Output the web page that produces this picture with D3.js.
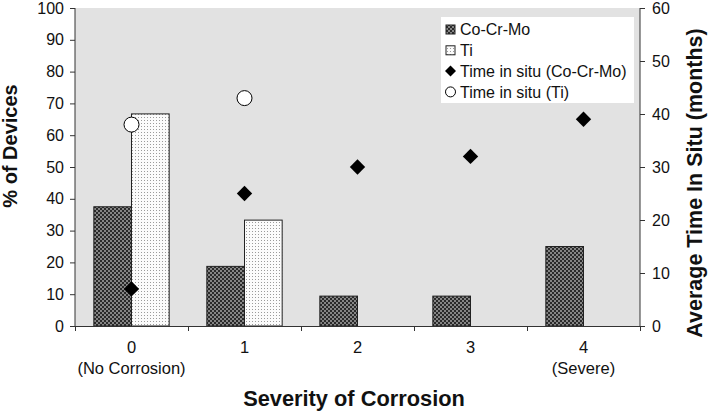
<!DOCTYPE html>
<html><head><meta charset="utf-8">
<script src="https://cdn.jsdelivr.net/npm/d3@7"></script>
<style>
body{margin:0;background:#fff;}
svg{display:block;font-family:"Liberation Sans",Arial,sans-serif;}
</style></head>
<body><svg id="c" width="708" height="414"></svg>
<script>
const categories = ["0","1","2","3","4"];
const subLabels = ["(No Corrosion)","","","","(Severe)"];
const coCrMo = [37.5, 18.75, 9.4, 9.4, 25];
const ti = [66.7, 33.3, 0, 0, 0];
const timeCoCrMo = [7, 25, 30, 32, 39];
const timeTi = [38, 43, null, null, null];
const leftTicks = [0,10,20,30,40,50,60,70,80,90,100];
const rightTicks = [0,10,20,30,40,50,60];
const legendLabels = ["Co-Cr-Mo","Ti","Time in situ (Co-Cr-Mo)","Time in situ (Ti)"];

const svg = d3.select("#c");
const L = 75, R = 640, T = 8, B = 326;
const axisCol = "#333";

const defs = svg.append("defs");
const p1 = defs.append("pattern").attr("id","pDark").attr("patternUnits","userSpaceOnUse").attr("width",4).attr("height",4);
p1.append("rect").attr("width",4).attr("height",4).attr("fill","#858585");
p1.append("rect").attr("width",2).attr("height",2).attr("fill","#2a2a2a");
p1.append("rect").attr("x",2).attr("y",2).attr("width",2).attr("height",2).attr("fill","#2a2a2a");
const p2 = defs.append("pattern").attr("id","pLight").attr("patternUnits","userSpaceOnUse").attr("width",3).attr("height",3);
p2.append("rect").attr("width",3).attr("height",3).attr("fill","#fbfbfb");
p2.append("rect").attr("width",1).attr("height",1).attr("fill","#9a9a9a");

const x = d3.scaleBand().domain(categories).range([L,R]).padding(0);
const bw = x.bandwidth();
const xs = d3.scaleBand().domain(["Co-Cr-Mo","Ti"]).range([bw/6, bw*5/6]).padding(0);
const yL = d3.scaleLinear().domain([0,100]).range([B,T]);
const yR = d3.scaleLinear().domain([0,60]).range([B,T]);
const xEdge = d3.scaleLinear().domain([0,5]).range([L,R]);

// plot background
svg.append("rect").attr("x",L).attr("y",T).attr("width",R-L).attr("height",B-T).attr("fill","#e2e2e2");

// bars
const rows = categories.map((c,i)=>({c, co:coCrMo[i], ti:ti[i]}));
const g = svg.append("g");
g.selectAll(".co").data(rows).join("rect")
  .attr("x",d=>x(d.c)+xs("Co-Cr-Mo")).attr("width",xs.bandwidth())
  .attr("y",d=>yL(d.co)).attr("height",d=>yL(0)-yL(d.co))
  .attr("fill","url(#pDark)").attr("stroke","#222").attr("stroke-width",1);
g.selectAll(".ti").data(rows.filter(d=>d.ti>0)).join("rect")
  .attr("x",d=>x(d.c)+xs("Ti")).attr("width",xs.bandwidth())
  .attr("y",d=>yL(d.ti)).attr("height",d=>yL(0)-yL(d.ti))
  .attr("fill","url(#pLight)").attr("stroke","#222").attr("stroke-width",1);

// axes
const ax = (sel)=>{sel.selectAll("path,line").attr("stroke",axisCol);sel.selectAll("text").attr("fill","#111").attr("font-size",16);};
svg.append("g").attr("transform",`translate(${L},0)`)
  .call(d3.axisLeft(yL).tickValues(leftTicks).tickSize(5).tickSizeOuter(0).tickPadding(6)).call(ax)
  .call(s=>s.select(".domain").attr("d",`M0,${B}V${T}`));
svg.append("g").attr("transform",`translate(${R},0)`)
  .call(d3.axisRight(yR).tickValues(rightTicks).tickSize(5).tickSizeOuter(0).tickPadding(7)).call(ax)
  .call(s=>s.select(".domain").attr("d",`M0,${B}V${T}`));
svg.append("g").attr("transform",`translate(0,${B})`)
  .call(d3.axisBottom(xEdge).tickValues([0,1,2,3,4,5]).tickFormat("").tickSize(5).tickSizeOuter(0)).call(ax);

// category labels
const lab = svg.append("g").attr("font-size",16.5).attr("fill","#111").attr("text-anchor","middle");
lab.selectAll(".n").data(categories).join("text")
  .attr("x",d=>x(d)+bw/2).attr("y",353).text(d=>d);
lab.selectAll(".s").data(categories.map((c,i)=>({c,s:subLabels[i]})).filter(d=>d.s)).join("text")
  .attr("x",d=>x(d.c)+bw/2).attr("y",374).text(d=>d.s);

// markers
const diamond = d3.symbol().type(d3.symbolSquare).size(118);
svg.append("g").selectAll("path").data(categories.map((c,i)=>({c,v:timeCoCrMo[i]})).filter(d=>d.v!=null)).join("path")
  .attr("d",diamond).attr("transform",d=>`translate(${x(d.c)+bw/2},${yR(d.v)}) rotate(45)`).attr("fill","#000");
svg.append("g").selectAll("circle").data(categories.map((c,i)=>({c,v:timeTi[i]})).filter(d=>d.v!=null)).join("circle")
  .attr("cx",d=>x(d.c)+bw/2).attr("cy",d=>yR(d.v)).attr("r",7.5)
  .attr("fill","#fff").attr("stroke","#000").attr("stroke-width",1);

// legend
const lg = svg.append("g");
lg.append("rect").attr("x",441).attr("y",17).attr("width",193).attr("height",86).attr("fill","#fff");
const ly = i=>29.5+i*20.8;
legendLabels.forEach((t,i)=>{
  lg.append("text").attr("x",460).attr("y",ly(i)+5.8).attr("font-size",16).attr("fill","#111").text(t);
});
lg.append("rect").attr("x",446).attr("y",ly(0)-4.5).attr("width",9).attr("height",9).attr("fill","url(#pDark)").attr("stroke","#222");
lg.append("rect").attr("x",446).attr("y",ly(1)-4.5).attr("width",9).attr("height",9).attr("fill","url(#pLight)").attr("stroke","#222");
lg.append("path").attr("d",d3.symbol().type(d3.symbolSquare).size(60)).attr("transform",`translate(450.5,${ly(2)}) rotate(45)`).attr("fill","#000");
lg.append("circle").attr("cx",450.5).attr("cy",ly(3)).attr("r",5).attr("fill","#fff").attr("stroke","#000");

// titles
svg.append("text").attr("x",354).attr("y",406).attr("text-anchor","middle")
  .attr("font-size",21.8).attr("font-weight","bold").attr("fill","#111").text("Severity of Corrosion");
svg.append("text").attr("transform","translate(17,146) rotate(-90)").attr("text-anchor","middle")
  .attr("font-size",20).attr("font-weight","bold").attr("fill","#111").text("% of Devices");
svg.append("text").attr("transform","translate(702,183) rotate(-90)").attr("text-anchor","middle")
  .attr("font-size",21.5).attr("font-weight","bold").attr("fill","#111").text("Average Time In Situ (months)");
</script></body></html>
